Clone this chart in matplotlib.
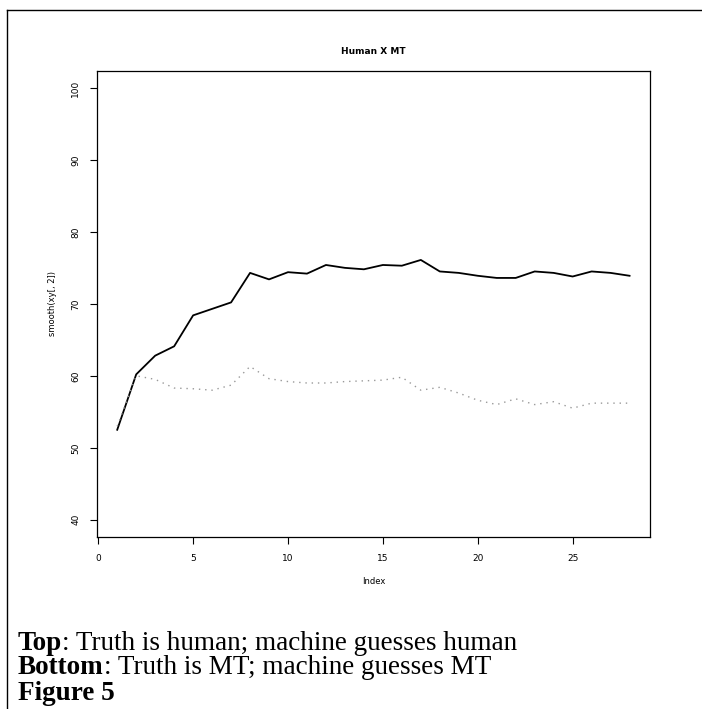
import matplotlib.pyplot as plt
from matplotlib.lines import Line2D

# smoothed scores, index 1..28
index = list(range(1, 29))
human_human = [52.5, 60.2, 62.8, 64.1, 68.4, 69.3, 70.2, 74.3, 73.4, 74.4,
               74.2, 75.4, 75.0, 74.8, 75.4, 75.3, 76.1, 74.5, 74.3, 73.9,
               73.6, 73.6, 74.5, 74.3, 73.8, 74.5, 74.3, 73.9]
mt_mt = [53.0, 60.0, 59.5, 58.3, 58.2, 58.0, 58.7, 61.3, 59.6, 59.2,
         59.0, 59.0, 59.2, 59.3, 59.4, 59.8, 58.0, 58.4, 57.6, 56.6,
         56.0, 56.8, 56.0, 56.4, 55.5, 56.2, 56.2, 56.2]
xticks = [0, 5, 10, 15, 20, 25]
yticks = [40, 50, 60, 70, 80, 90, 100]

fig = plt.figure(figsize=(7.02, 7.09), dpi=100)
ax = fig.add_axes([0.1378, 0.2426, 0.926 - 0.1378, 0.9003 - 0.2426])

ax.plot(index, human_human, color='black', lw=1.3)
ax.plot(index, mt_mt, color='#999999', lw=1.0, linestyle=(0, (1, 3.5)))

ax.set_xlim(-0.08, 29.08)
ax.set_ylim(37.6, 102.4)
ax.set_xticks(xticks)
ax.set_yticks(yticks)
ax.tick_params(direction='out', length=5, width=0.8, labelsize=6.5, pad=7)
for lab in ax.get_yticklabels():
    lab.set_rotation(90)
    lab.set_va('center')
for s in ax.spines.values():
    s.set_linewidth(0.9)

ax.set_title('Human X MT', fontsize=6.5, fontweight='bold', pad=12)
ax.set_xlabel('Index', fontsize=6, labelpad=10)
ax.set_ylabel('smooth(xy[, 2])', fontsize=6, labelpad=10)

# outer frame, only top and left edges show
fig.add_artist(Line2D([7 / 702, 7 / 702], [0, 1 - 10 / 709], color='black', lw=1.0))
fig.add_artist(Line2D([7 / 702, 1], [1 - 10 / 709, 1 - 10 / 709], color='black', lw=1.0))

serif = 'Liberation Serif'
fs = 19.5


def caption(y, bold, rest):
    t = fig.text(18 / 702, 1 - y / 709, bold, fontsize=fs, family=serif,
                 fontweight='bold', va='center')
    if rest:
        fig.canvas.draw()
        bb = t.get_window_extent()
        fig.text(bb.x1 / fig.bbox.width, 1 - y / 709, rest, fontsize=fs,
                 family=serif, va='center')


caption(643, 'Top', ': Truth is human; machine guesses human')
caption(668, 'Bottom', ': Truth is MT; machine guesses MT')
caption(693, 'Figure 5', '')

fig.savefig('out.png', dpi=100)
